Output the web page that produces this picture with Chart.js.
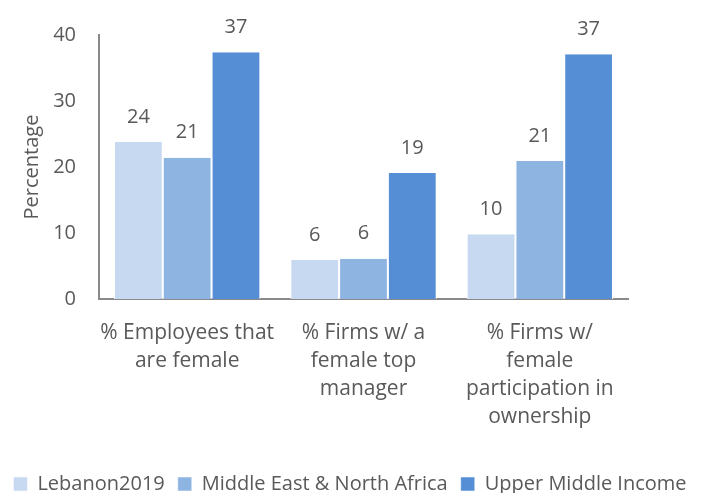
<!DOCTYPE html>
<html>
<head>
<meta charset="utf-8">
<script src="https://cdn.jsdelivr.net/npm/chart.js@4"></script>
<style>
  body { margin: 0; background: #fff; }
  #wrap { width: 705px; height: 493px; }
</style>
</head>
<body>
<div id="wrap"><canvas id="chart"></canvas></div>
<script>
// Data
const categories = [
  ['% Employees that', 'are female'],
  ['% Firms w/ a', 'female top', 'manager'],
  ['% Firms w/', 'female', 'participation in', 'ownership']
];
const seriesNames = ['Lebanon2019', 'Middle East & North Africa', 'Upper Middle Income'];
const lebanon = [23.8, 5.9, 9.8];
const mena = [21.4, 6.1, 20.9];
const upperMiddle = [37.4, 19.1, 37.1];
const yTicks = [0, 10, 20, 30, 40];

const colors = ['#C7D9F0', '#8EB4E2', '#558ED5'];
const textColor = '#595959';

Chart.defaults.font.family = '"Open Sans", sans-serif';
Chart.defaults.color = textColor;

// Value labels above the bars
const valueLabels = {
  id: 'valueLabels',
  afterDatasetsDraw(chart) {
    const ctx = chart.ctx;
    ctx.save();
    ctx.font = '20px "Open Sans", sans-serif';
    ctx.fillStyle = textColor;
    ctx.textAlign = 'center';
    ctx.textBaseline = 'middle';
    chart.data.datasets.forEach((ds, i) => {
      chart.getDatasetMeta(i).data.forEach((bar, j) => {
        ctx.fillText(Math.round(ds.data[j]), bar.x, bar.y - 25);
      });
    });
    ctx.restore();
  }
};

const allSeries = [lebanon, mena, upperMiddle];

new Chart(document.getElementById('chart'), {
  type: 'bar',
  data: {
    labels: categories,
    datasets: allSeries.map((values, i) => ({
      label: seriesNames[i],
      data: values,
      backgroundColor: colors[i],
      borderColor: '#ffffff',
      borderWidth: { left: 1, right: 1, top: 0, bottom: 0 },
      borderSkipped: false,
      categoryPercentage: 0.83,
      barPercentage: 1.0
    }))
  },
  options: {
    responsive: true,
    maintainAspectRatio: false,
    animation: false,
    layout: { padding: { top: 34, right: 5, bottom: -11, left: 0 } },
    plugins: {
      tooltip: { enabled: false },
      legend: {
        position: 'bottom',
        labels: {
          boxWidth: 14,
          boxHeight: 14,
          padding: 13,
          color: textColor,
          font: { size: 20 }
        }
      }
    },
    scales: {
      x: {
        grid: { display: false, drawTicks: false },
        border: { display: true, color: '#898989', width: 2 },
        ticks: {
          padding: 20,
          color: textColor,
          maxRotation: 0,
          autoSkip: false,
          font: { size: 21, lineHeight: 1.33 }
        },
        afterFit(s) { s.height = 162; }
      },
      y: {
        min: 0,
        max: 40,
        grid: { display: false, drawTicks: false },
        border: { display: true, color: '#898989', width: 2 },
        afterBuildTicks(s) { s.ticks = yTicks.map(v => ({ value: v })); },
        ticks: { padding: 23, color: textColor, font: { size: 20 } },
        title: {
          display: true,
          text: 'Percentage',
          color: textColor,
          font: { size: 20 },
          padding: { top: 20, bottom: 0 }
        },
        afterFit(s) { s.width = 99; }
      },
      yRight: {
        position: 'right',
        display: true,
        grid: { display: false, drawTicks: false },
        border: { display: false },
        ticks: { display: false },
        afterFit(s) { s.width = 72; }
      }
    }
  },
  plugins: [valueLabels]
});
</script>
</body>
</html>
